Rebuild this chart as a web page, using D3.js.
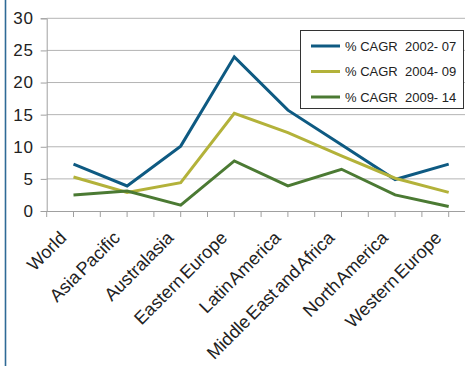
<!DOCTYPE html>
<html><head><meta charset="utf-8">
<script src="https://cdn.jsdelivr.net/npm/d3@7"></script>
<style>
html,body{margin:0;padding:0;background:#fff;}
svg{display:block;font-family:"Liberation Sans",Arial,sans-serif;}
</style></head>
<body><svg id="c" width="465" height="366"></svg>
<script>
const categories = ["World","Asia Pacific","Australasia","Eastern Europe","Latin America","Middle East and Africa","North America","Western Europe"];
const cagr0207 = [7.3, 3.9, 10.1, 24.0, 15.7, 10.3, 4.9, 7.3];
const cagr0409 = [5.3, 2.9, 4.4, 15.2, 12.2, 8.6, 5.1, 2.9];
const cagr0914 = [2.5, 3.1, 0.9, 7.8, 3.9, 6.5, 2.5, 0.7];
const seriesNames = ["% CAGR  2002- 07","% CAGR  2004- 09","% CAGR  2009- 14"];
const seriesColors = ["#0e5a82","#b3b23a","#4b7a33"];
const yTicks = [0,5,10,15,20,25,30];

const series = [cagr0207, cagr0409, cagr0914];
const svg = d3.select("#c");

// left border
svg.append("line").attr("x1",5.5).attr("x2",5.5).attr("y1",0).attr("y2",366)
  .attr("stroke","#2f6a96").attr("stroke-width",1.6);

const x0 = 46.7, bw = 53.6;
const x = d3.scaleBand().domain(categories).range([x0, x0 + bw*categories.length]).padding(0);
const y = d3.scaleLinear().domain([0,30]).range([211, 18.3]);
const cx = c => x(c) + x.bandwidth()/2;

// gridlines
svg.append("g").selectAll("line").data(yTicks.filter(t=>t>0)).join("line")
  .attr("x1",x0).attr("x2",465).attr("y1",d=>y(d)).attr("y2",d=>y(d))
  .attr("stroke","#b4b4b4").attr("stroke-width",1);

// y axis
const yAxis = d3.axisLeft(y).tickValues(yTicks).tickSize(6).tickPadding(7).tickFormat(d3.format("d"));
const gy = svg.append("g").attr("transform",`translate(${x0},0)`).call(yAxis);
gy.select(".domain").attr("stroke","#a0a0a0");
gy.selectAll(".tick line").attr("stroke","#a0a0a0");
gy.selectAll(".tick text").attr("font-size",17).attr("fill","#222").attr("font-family","Liberation Sans, Arial, sans-serif").attr("letter-spacing","0.8px");

// x axis line
svg.append("line").attr("x1",x0).attr("x2",465).attr("y1",y(0)+0.5).attr("y2",y(0)+0.5)
  .attr("stroke","#a0a0a0");
const tickPos = [];
categories.forEach(c=>{ tickPos.push(x(c)); tickPos.push(cx(c)); });
svg.append("g").selectAll("line").data(tickPos).join("line")
  .attr("x1",d=>d).attr("x2",d=>d).attr("y1",y(0)).attr("y2",y(0)+6)
  .attr("stroke","#a0a0a0");

// x labels
svg.append("g").selectAll("text").data(categories).join("text")
  .attr("transform",d=>`translate(${cx(d)-6},239) rotate(-45)`)
  .attr("text-anchor","end").attr("font-size",18).attr("fill","#222")
  .attr("word-spacing","-2.5px")
  .text(d=>d);

// lines
const line = d3.line().x((d,i)=>cx(categories[i])).y(d=>y(d));
series.forEach((s,i)=>{
  svg.append("path").datum(s).attr("d",line).attr("fill","none")
    .attr("stroke",seriesColors[i]).attr("stroke-width",3).attr("stroke-linejoin","miter");
});

// legend
const lg = svg.append("g");
lg.append("rect").attr("x",300.5).attr("y",30.5).attr("width",163).attr("height",78)
  .attr("fill","#fff").attr("stroke","#333").attr("stroke-width",1);
seriesNames.forEach((n,i)=>{
  const ly = 46 + i*25.5;
  lg.append("line").attr("x1",311).attr("x2",340).attr("y1",ly).attr("y2",ly)
    .attr("stroke",seriesColors[i]).attr("stroke-width",3);
  lg.append("text").attr("x",345).attr("y",ly+4.5).attr("font-size",13).attr("fill","#222")
    .attr("xml:space","preserve").style("white-space","pre").text(n);
});
</script></body></html>
